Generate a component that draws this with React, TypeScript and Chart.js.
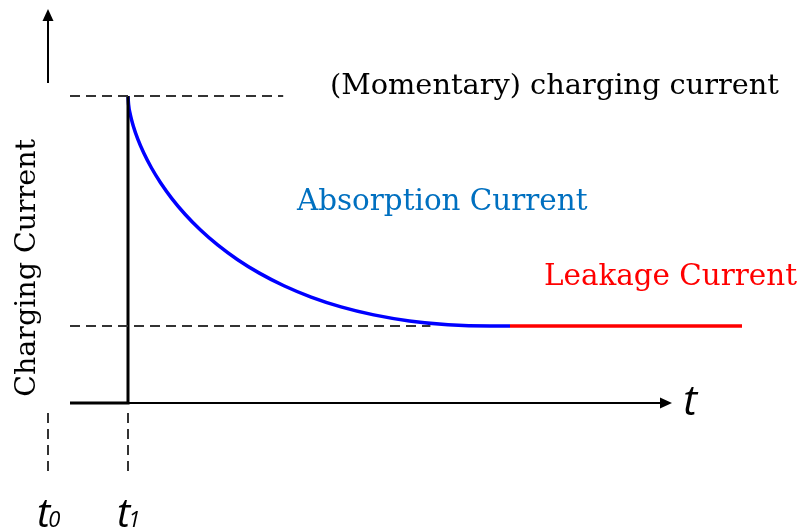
import React, { useEffect, useRef } from "react";
import { Chart, registerables } from "chart.js";

Chart.register(...registerables);

// time axis (t0 = 0, t1 = 1) and current (peak = 1)
const stepT = [0.275, 1, 1];
const stepI = [0, 0, 1];

const absorptionT = [1.0, 1.007, 1.0288, 1.0669, 1.1226, 1.1973, 1.2923, 1.409, 1.5488, 1.713, 1.9031, 2.1204, 2.3663, 2.642, 2.949, 3.2886, 3.6624, 4.0715, 4.5174, 5.0015, 5.525, 5.775];
const absorptionI = [1.0, 0.9725, 0.9394, 0.9015, 0.8595, 0.8142, 0.7663, 0.7167, 0.6659, 0.6149, 0.5643, 0.515, 0.4676, 0.423, 0.3819, 0.345, 0.3131, 0.287, 0.2674, 0.2551, 0.2508, 0.2508];

const leakageT = [5.775, 8.675];
const leakageI = [0.2508, 0.2508];

const peakGuideT = [0.275, 2.94];
const peakGuideI = [1, 1];
const leakGuideT = [0.275, 4.78];
const leakGuideI = [0.2508, 0.2508];
const tickMarks = [0, 1];
const tickLabels = ["0", "1"];

const X_MIN = -0.6, X_MAX = 9.4125, Y_MIN = -0.417, Y_MAX = 1.3127;

const pts = (xs: number[], ys: number[]) => xs.map((x, i) => ({ x, y: ys[i] }));

const drawPlugin = {
  id: "decor",
  afterDatasetsDraw(chart: any) {
    const ctx = chart.ctx;
    const xs = chart.scales.x, ys = chart.scales.y;
    const px = (v: number) => xs.getPixelForValue(v);
    const py = (v: number) => ys.getPixelForValue(v);
    ctx.save();
    const arrow = (x1: number, y1: number, x2: number, y2: number) => {
      ctx.strokeStyle = "#000";
      ctx.fillStyle = "#000";
      ctx.lineWidth = 2;
      const ang = Math.atan2(y2 - y1, x2 - x1);
      const hl = 12, hw = 5.5;
      ctx.beginPath();
      ctx.moveTo(x1, y1);
      ctx.lineTo(x2 - hl * Math.cos(ang) * 0.8, y2 - hl * Math.sin(ang) * 0.8);
      ctx.stroke();
      ctx.beginPath();
      ctx.moveTo(x2, y2);
      ctx.lineTo(x2 - hl * Math.cos(ang) - hw * Math.sin(ang), y2 - hl * Math.sin(ang) + hw * Math.cos(ang));
      ctx.lineTo(x2 - hl * Math.cos(ang) + hw * Math.sin(ang), y2 - hl * Math.sin(ang) - hw * Math.cos(ang));
      ctx.closePath();
      ctx.fill();
    };
    arrow(px(0.275), py(0), px(7.8), py(0));
    arrow(px(0), py(1.042), px(0), py(1.283));

    ctx.setLineDash([10, 6]);
    ctx.strokeStyle = "#333";
    ctx.lineWidth = 2;
    tickMarks.forEach((t) => {
      ctx.beginPath();
      ctx.moveTo(px(t), py(-0.033));
      ctx.lineTo(px(t), py(-0.235));
      ctx.stroke();
    });
    ctx.setLineDash([]);

    tickMarks.forEach((t, i) => {
      const x = px(t) - 11, y = py(-0.404);
      ctx.fillStyle = "#000";
      ctx.textBaseline = "alphabetic";
      ctx.textAlign = "left";
      ctx.font = "italic 40px 'Open Sans'";
      ctx.fillText("t", x, y);
      const w = ctx.measureText("t").width;
      ctx.font = "italic 22px 'Open Sans'";
      ctx.fillText(tickLabels[i], x + w - 2, y);
    });

    ctx.font = "italic 42px 'Open Sans'";
    ctx.fillStyle = "#000";
    ctx.fillText("t", px(7.94), py(-0.04));

    const text = (s: string, t: number, i: number, color: string, size: number) => {
      ctx.font = `${size}px 'DejaVu Serif'`;
      ctx.fillStyle = color;
      ctx.textAlign = "left";
      ctx.fillText(s, px(t), py(i));
    };
    text("(Momentary) charging current", 3.525, 1.0065, "#000", 28.8);
    text("Absorption Current", 3.1125, 0.6287, "#0070C0", 29.4);
    text("Leakage Current", 6.2, 0.384, "#FF0000", 29.4);

    ctx.save();
    ctx.translate(px(-0.1625), py(0.44));
    ctx.rotate(-Math.PI / 2);
    ctx.font = "28.5px 'DejaVu Serif'";
    ctx.fillStyle = "#000";
    ctx.textAlign = "center";
    ctx.textBaseline = "alphabetic";
    ctx.fillText("Charging Current", 0, 0);
    ctx.restore();

    ctx.restore();
  },
};

export default function App() {
  const ref = useRef<HTMLCanvasElement>(null);
  useEffect(() => {
    document.body.style.margin = "0";
    const chart = new Chart(ref.current!, {
      type: "scatter",
      data: {
        datasets: [
          { data: pts(peakGuideT, peakGuideI), showLine: true, borderColor: "#333", borderWidth: 2, borderDash: [10, 6], pointRadius: 0 },
          { data: pts(leakGuideT, leakGuideI), showLine: true, borderColor: "#333", borderWidth: 2, borderDash: [10, 6], pointRadius: 0 },
          { data: pts(stepT, stepI), showLine: true, borderColor: "#000", borderWidth: 3, pointRadius: 0 },
          { data: pts(absorptionT, absorptionI), showLine: true, borderColor: "#0000FF", borderWidth: 3.5, pointRadius: 0, cubicInterpolationMode: "monotone" },
          { data: pts(leakageT, leakageI), showLine: true, borderColor: "#FF0000", borderWidth: 3.5, pointRadius: 0 },
        ] as any,
      },
      options: {
        animation: false,
        responsive: true,
        maintainAspectRatio: false,
        layout: { padding: 0 },
        plugins: { legend: { display: false }, tooltip: { enabled: false } },
        scales: {
          x: { type: "linear", min: X_MIN, max: X_MAX, display: false },
          y: { type: "linear", min: Y_MIN, max: Y_MAX, display: false },
        },
      },
      plugins: [drawPlugin],
    });
    return () => chart.destroy();
  }, []);
  return (
    <div style={{ position: "fixed", left: 0, top: 0, width: 801, height: 531, background: "#fff" }}>
      <canvas ref={ref} />
    </div>
  );
}
